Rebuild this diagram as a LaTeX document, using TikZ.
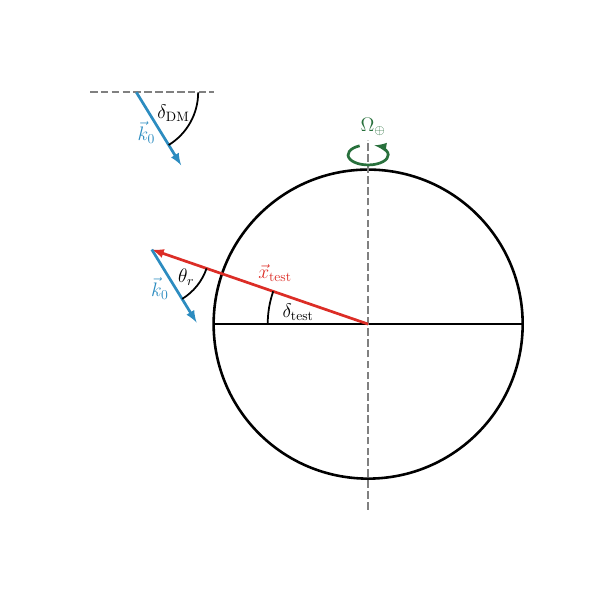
\documentclass[tikz,border=0pt]{standalone}
\usepackage{amsmath,amssymb}
\usepackage{xcolor}
\usepackage{tikz}
\usepackage{tkz-euclide}

\definecolor{redvec}{RGB}{220,45,38}
\definecolor{bluevec}{RGB}{44,140,192}
\definecolor{greenrot}{RGB}{40,112,60}

\begin{document}
\begin{tikzpicture}[font=\Large,
        axisline/.style={gray, line width=1.4pt, dash pattern=on 5.6pt off 2.4pt},
        vecline/.style={line width=2pt, -latex}]
        \useasboundingbox (-9.53,-7.09) rectangle (5.95,8.39);

        % 定义地心和各点
        \coordinate (O) at (0, 0);        % 地心
        \coordinate (L) at (-4, 0);       % 左端点
        \coordinate (R) at (4, 0);        % 右端点
        \coordinate (X) at (-5.60, 1.93); % 测试点
        \coordinate (K) at (-4.44, 0.04); % k0 箭头终点
        \coordinate (P) at (-6, 6);       % 上方 k0 起点
        \coordinate (Q) at (-4.84, 4.11); % 上方 k0 终点
        \coordinate (H) at (-4.0, 6);     % 水平虚线右端

        % 画地球
        \draw[line width=1.9pt] (O) circle (4);
        \draw[line width=1pt] (L) -- (R);

        % 画自转轴
        \draw[axisline] (0, -4.8) -- (0, 4.76);
        \draw[greenrot, line width=2pt, -latex] (0, 4.38) ++(115:0.52 and 0.26)
            arc[start angle=115, end angle=432, x radius=0.52, y radius=0.26];
        \node[greenrot] at (0.13, 5.1) {$\Omega_\oplus$};

        % 画测试向量
        \draw[redvec, vecline] (O) -- (X);
        \node[redvec] at (-2.41, 1.32) {$\vec{x}_{\text{test}}$};
        \draw[bluevec, vecline] (X) -- (K);
        \node[bluevec] at (-5.39, 0.93) {$\vec{k}_0$};

        % 画上方参考方向
        \draw[axisline] (-7.2, 6) -- (H);
        \draw[bluevec, vecline] (P) -- (Q);
        \node[bluevec] at (-5.74, 4.96) {$\vec{k}_0$};

        % 标记角度
        \tkzMarkAngle[size=2.6, line width=1.3pt](X,O,L)
        \tkzLabelAngle[pos=1.84, font=\Large](X,O,L){$\delta_{\text{test}}$}
        \tkzMarkAngle[size=1.5, line width=1.3pt](K,X,O)
        \tkzLabelAngle[pos=1.14, font=\Large](K,X,O){$\theta_r$}
        \tkzMarkAngle[size=1.6, line width=1.3pt](Q,P,H)
        \tkzLabelAngle[pos=1.1, font=\Large](Q,P,H){$\delta_{\text{DM}}$}
    \end{tikzpicture}
\end{document}
